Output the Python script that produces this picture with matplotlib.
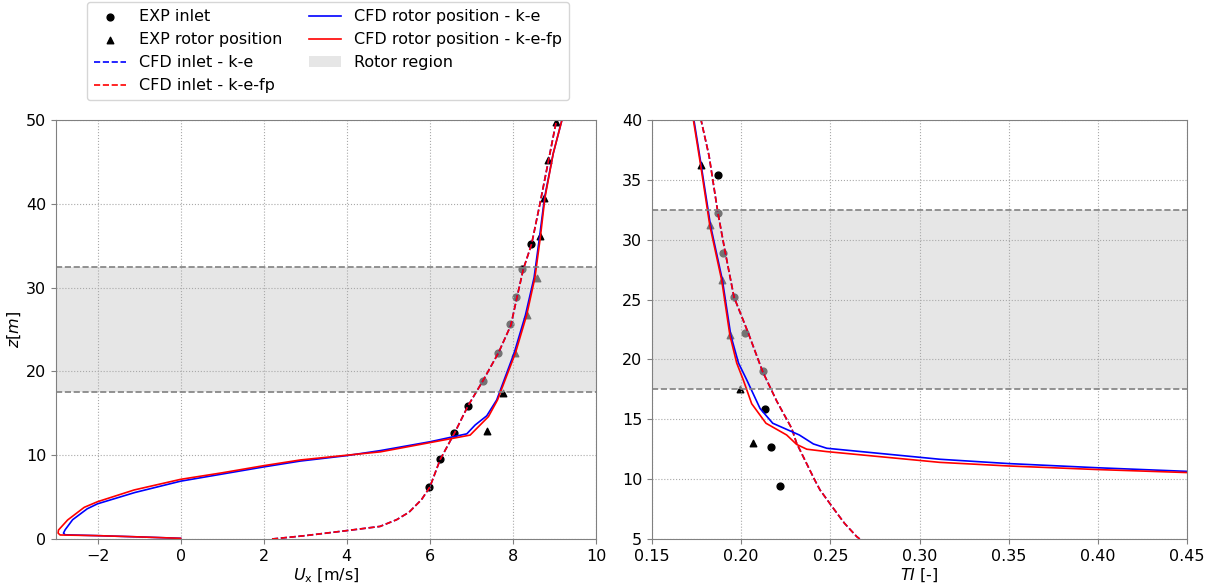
import numpy as np
import matplotlib
matplotlib.use('Agg')
import matplotlib.pyplot as plt

# experimental data - streamwise velocity
ux_exp_inlet = [5.98, 6.25, 6.59, 6.92, 7.28, 7.65, 7.93, 8.07, 8.21, 8.44]
z_exp_inlet_u = [6.2, 9.5, 12.7, 15.9, 18.9, 22.2, 25.6, 28.9, 32.2, 35.2]
ux_exp_rotor = [7.37, 7.76, 8.06, 8.33, 8.57, 8.65, 8.76, 8.84, 9.04]
z_exp_rotor_u = [12.9, 17.4, 22.2, 26.7, 31.2, 36.2, 40.7, 45.2, 49.8]

# experimental data - turbulence intensity
ti_exp_inlet = [0.2218, 0.2167, 0.2135, 0.212, 0.202, 0.196, 0.190, 0.187, 0.187]
z_exp_inlet_ti = [9.4, 12.7, 15.9, 19.0, 22.2, 25.2, 28.9, 32.2, 35.4]
ti_exp_rotor = [0.2068, 0.1993, 0.1937, 0.1891, 0.1824, 0.1773]
z_exp_rotor_ti = [13.0, 17.5, 22.0, 26.6, 31.2, 36.2]

# CFD inlet profile (k-e and k-e-fp give the same inlet)
ux_cfd_inlet = [2.2, 3.0, 4.0, 4.8, 5.2, 5.5, 5.8, 6.0, 6.25, 6.6, 6.92, 7.28, 7.65,
                7.95, 8.1, 8.25, 8.45, 8.65, 8.85, 9.05]
z_cfd_inlet_u = [0.0, 0.4, 1.0, 1.5, 2.3, 3.2, 4.7, 6.2, 9.5, 12.7, 15.9, 18.9, 22.2,
                 25.5, 28.9, 32.2, 35.2, 40.0, 45.0, 50.0]
ti_cfd_inlet = [0.2665, 0.2648, 0.258, 0.252, 0.2442, 0.241, 0.2311, 0.2283, 0.220,
                0.212, 0.204, 0.196, 0.191, 0.187, 0.182, 0.1775]
z_cfd_inlet_ti = [5.0, 5.2, 6.3, 7.5, 9.1, 10.0, 13.0, 14.25, 16.5, 19.0, 22.2, 25.2,
                  29.0, 32.2, 37.0, 40.0]

# CFD rotor position - k-e
ux_ke = [0.0, -1.0, -2.0, -2.78, -2.82, -2.78, -2.6, -2.25, -2.0, -1.1, 0.0, 1.0,
         2.0, 2.88, 4.0, 4.81, 6.0, 6.89, 7.09, 7.37, 7.61, 7.67, 8.03, 8.30, 8.51,
         8.64, 8.76, 8.97, 9.18]
z_ke_u = [0.08, 0.25, 0.4, 0.5, 0.7, 1.1, 2.3, 3.6, 4.2, 5.55, 6.9, 7.75, 8.6, 9.3,
          9.95, 10.55, 11.6, 12.55, 13.6, 14.7, 16.6, 17.4, 22.2, 26.7, 31.2, 36.0,
          40.7, 46.0, 50.0]
ti_ke = [0.45, 0.40, 0.35, 0.3115, 0.248, 0.2405, 0.2326, 0.2177, 0.2106, 0.2031,
         0.1985, 0.1942, 0.1895, 0.1828, 0.1776, 0.1735]
z_ke_ti = [10.65, 10.95, 11.3, 11.66, 12.58, 12.94, 13.69, 14.67, 15.9, 18.3, 19.7,
           22.0, 26.6, 31.2, 36.2, 40.0]

# CFD rotor position - k-e-fp
ux_kefp = [0.0, -1.0, -2.0, -2.9, -2.95, -2.94, -2.72, -2.32, -2.0, -1.12, 0.0, 1.0,
           2.0, 2.88, 4.0, 4.81, 6.0, 6.97, 7.13, 7.41, 7.63, 7.69, 8.06, 8.33, 8.53,
           8.66, 8.77, 8.97, 9.18]
z_kefp_u = [0.08, 0.25, 0.4, 0.48, 0.7, 1.07, 2.27, 3.78, 4.45, 5.85, 7.12, 7.9, 8.75,
            9.43, 10.0, 10.4, 11.5, 12.4, 13.2, 14.6, 16.6, 17.4, 22.2, 26.7, 31.2,
            36.0, 40.7, 46.0, 50.0]
ti_kefp = [0.45, 0.40, 0.35, 0.3115, 0.248, 0.2368, 0.2311, 0.2255, 0.2139, 0.2059,
           0.2012, 0.1975, 0.1937, 0.1891, 0.1824, 0.1773, 0.1732]
z_kefp_ti = [10.55, 10.8, 11.1, 11.4, 12.3, 12.5, 12.9, 13.69, 14.67, 16.3, 18.28,
             19.7, 22.0, 26.6, 31.2, 36.2, 40.0]

# rotor region (hub height +- radius)
z_rotor_bottom = 17.5
z_rotor_top = 32.5

plt.rcParams.update({'font.size': 11.5})
fig = plt.figure(figsize=(12.11, 5.86), dpi=100)
W, H = 1211, 586
ax_u = fig.add_axes([56 / W, 47 / H, 540 / W, 419 / H])
ax_ti = fig.add_axes([652 / W, 47 / H, 535 / W, 419 / H])

panels = [
    (ax_u, ux_exp_inlet, z_exp_inlet_u, ux_exp_rotor, z_exp_rotor_u,
     ux_cfd_inlet, z_cfd_inlet_u, ux_ke, z_ke_u, ux_kefp, z_kefp_u),
    (ax_ti, ti_exp_inlet, z_exp_inlet_ti, ti_exp_rotor, z_exp_rotor_ti,
     ti_cfd_inlet, z_cfd_inlet_ti, ti_ke, z_ke_ti, ti_kefp, z_kefp_ti),
]

for ax, xi, zi, xr, zr, xc, zc, xke, zke, xfp, zfp in panels:
    ax.scatter(xi, zi, marker='o', s=24, color='k', label='EXP inlet')
    ax.scatter(xr, zr, marker='^', s=22, color='k', label='EXP rotor position')
    ax.plot(xc, zc, '--', color='b', lw=1.2, label='CFD inlet - k-e')
    ax.plot(xc, zc, '--', color='r', lw=1.2, label='CFD inlet - k-e-fp')
    ax.plot(xke, zke, '-', color='b', lw=1.2, label='CFD rotor position - k-e')
    ax.plot(xfp, zfp, '-', color='r', lw=1.2, label='CFD rotor position - k-e-fp')
    # shaded rotor region drawn over the markers
    ax.axhspan(z_rotor_bottom, z_rotor_top, color='lightgray', alpha=0.55, lw=0,
               zorder=1.5, label='Rotor region')
    ax.axhline(z_rotor_bottom, color='gray', ls='--', lw=1.2)
    ax.axhline(z_rotor_top, color='gray', ls='--', lw=1.2)
    ax.grid(True, ls=':', color='darkgray', lw=0.8)
    for sp in ax.spines.values():
        sp.set_color('gray')
    ax.tick_params(color='gray')

ax_u.set_xlim(-3, 10)
ax_u.set_ylim(0, 50)
ax_u.set_xticks([-2, 0, 2, 4, 6, 8, 10])
ax_u.set_xlabel(r'$U_\mathrm{x}$ [m/s]', labelpad=2)
ax_u.set_ylabel(r'$z [m]$', labelpad=2)

ax_ti.set_xlim(0.15, 0.45)
ax_ti.set_ylim(5, 40)
ax_ti.set_xticks(np.arange(0.15, 0.451, 0.05))
ax_ti.set_xlabel(r'$TI$ [-]', labelpad=2)

handles, labels = ax_u.get_legend_handles_labels()
order = ['EXP inlet', 'EXP rotor position', 'CFD inlet - k-e', 'CFD inlet - k-e-fp',
         'CFD rotor position - k-e', 'CFD rotor position - k-e-fp', 'Rotor region']
hmap = dict(zip(labels, handles))
fig.legend([hmap[l] for l in order], order, loc='upper left', ncol=2,
           bbox_to_anchor=(87 / W, 1 - 2 / H), borderaxespad=0,
           columnspacing=1.7, handletextpad=0.8, borderpad=0.45, labelspacing=0.5)

fig.savefig('out.png', dpi=100)
